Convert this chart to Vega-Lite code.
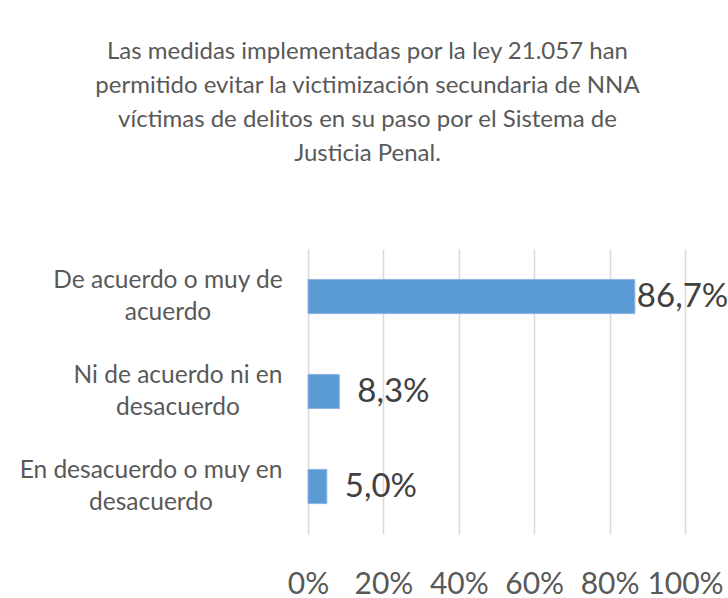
{
  "$schema": "https://vega.github.io/schema/vega-lite/v6.json",
  "width": 377,
  "height": 285,
  "autosize": "none",
  "padding": {"left": 308, "top": 249, "right": 43, "bottom": 64},
  "background": "white",
  "config": {
    "view": {"stroke": null},
    "font": "Lato",
    "locale": {"number": {"decimal": ",", "thousands": ".", "grouping": [3], "currency": ["", " €"]}}
  },
  "title": {
    "text": ["Las medidas implementadas por la ley 21.057 han", "permitido evitar la victimización secundaria de NNA", "víctimas de delitos en su paso por el Sistema de", "Justicia Penal."],
    "font": "Lato",
    "fontSize": 24,
    "fontWeight": "normal",
    "lineHeight": 34,
    "color": "#595959",
    "anchor": "middle",
    "frame": "group",
    "dx": -129,
    "offset": 83
  },
  "data": {
    "values": [
      {"categoria": "De acuerdo o muy de acuerdo", "valor": 0.867},
      {"categoria": "Ni de acuerdo ni en desacuerdo", "valor": 0.083},
      {"categoria": "En desacuerdo o muy en desacuerdo", "valor": 0.05}
    ]
  },
  "encoding": {
    "y": {
      "field": "categoria",
      "type": "nominal",
      "sort": null,
      "title": null,
      "scale": {"paddingInner": 0.64, "paddingOuter": 0.32},
      "axis": {
        "domain": false,
        "ticks": false,
        "grid": false,
        "labelFont": "Lato",
        "labelFontSize": 24.5,
        "labelColor": "#595959",
        "labelLineHeight": 32.5,
        "labelAlign": "center",
        "labelBaseline": "middle",
        "labelOffset": -16,
        "labelPadding": {
          "condition": [
            {"test": "datum.value == 'De acuerdo o muy de acuerdo'", "value": 140.5},
            {"test": "datum.value == 'En desacuerdo o muy en desacuerdo'", "value": 157.5}
          ],
          "value": 130.5
        },
        "labelLimit": 400,
        "labelExpr": "datum.label == 'De acuerdo o muy de acuerdo' ? ['De acuerdo o muy de', 'acuerdo'] : datum.label == 'Ni de acuerdo ni en desacuerdo' ? ['Ni de acuerdo ni en', 'desacuerdo'] : ['En desacuerdo o muy en', 'desacuerdo']"
      }
    },
    "x": {
      "field": "valor",
      "type": "quantitative",
      "title": null,
      "scale": {"domain": [0, 1], "nice": false},
      "axis": {
        "values": [0, 0.2, 0.4, 0.6, 0.8, 1],
        "format": ".0%",
        "domain": false,
        "ticks": false,
        "grid": true,
        "gridColor": "#D9D9D9",
        "gridWidth": 1.5,
        "labelFont": "Lato",
        "labelFontSize": 30,
        "labelColor": "#595959",
        "labelPadding": 35,
        "labelFlush": false
      }
    }
  },
  "layer": [
    {
      "mark": {"type": "bar", "color": "#5B9BD5", "stroke": "#8DB6E2", "strokeWidth": 1}
    },
    {
      "transform": [{"filter": "datum.valor > 0.5"}],
      "mark": {"type": "text", "align": "left", "baseline": "middle", "dx": 2, "font": "Lato", "fontSize": 33, "color": "#404040"},
      "encoding": {"text": {"field": "valor", "type": "quantitative", "format": ".1%"}}
    },
    {
      "transform": [{"filter": "datum.valor <= 0.5"}],
      "mark": {"type": "text", "align": "left", "baseline": "middle", "dx": 18, "font": "Lato", "fontSize": 33, "color": "#404040"},
      "encoding": {"text": {"field": "valor", "type": "quantitative", "format": ".1%"}}
    }
  ]
}
